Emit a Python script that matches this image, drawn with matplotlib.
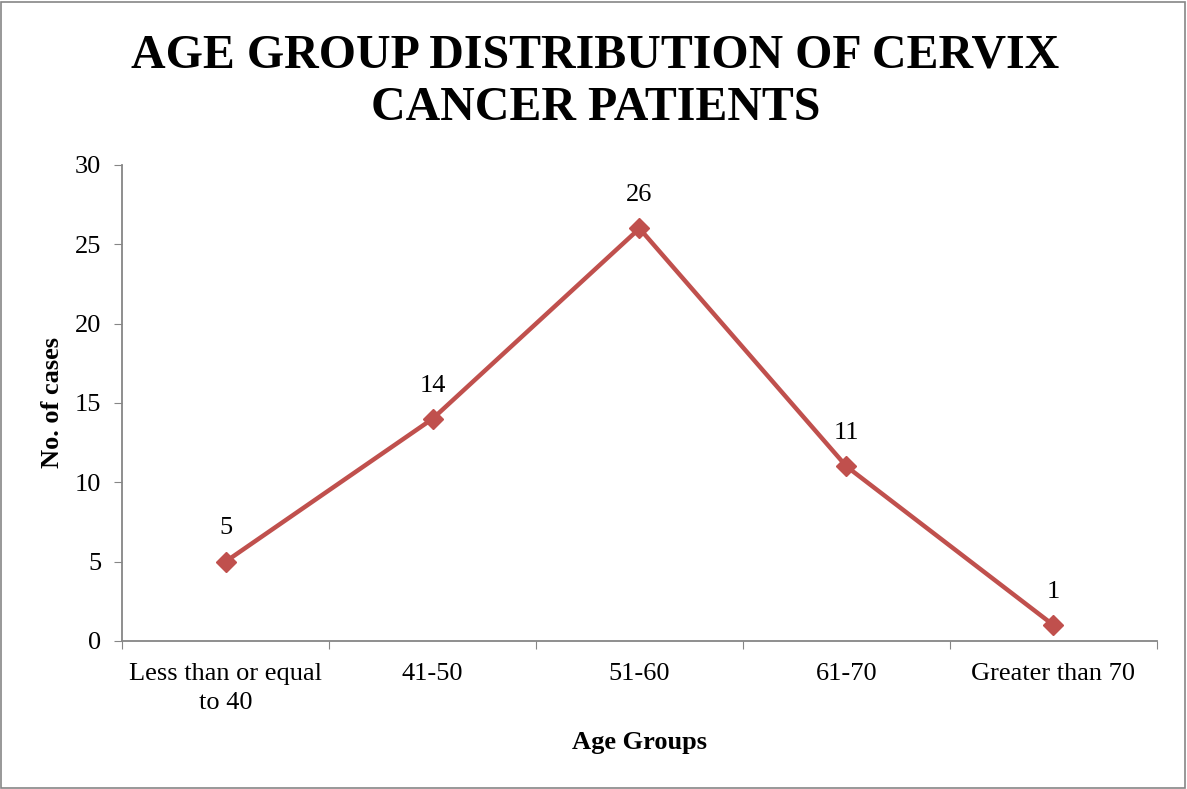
import numpy as np
import matplotlib.pyplot as plt
from matplotlib.patches import Rectangle

categories = ['Less than or equal\nto 40', '41-50', '51-60', '61-70', 'Greater than 70']
cases = [5, 14, 26, 11, 1]

plt.rcParams['font.family'] = ['Liberation Serif', 'DejaVu Serif']

fig = plt.figure(figsize=(11.87, 7.89), dpi=100)
ax = fig.add_axes([0.1028, 0.1876, 0.8719, 0.6033])

x = np.arange(len(categories))
ax.plot(x, cases, color='#C0504D', lw=3.2, marker='D', markersize=10, clip_on=False)
for xi, yi in zip(x, cases):
    ax.annotate(str(yi), (xi, yi), xytext=(0, 16), textcoords='offset points',
                ha='center', va='bottom', fontsize=19)

ax.set_xlim(-0.5, len(categories) - 0.5)
ax.set_ylim(0, 30)
ax.set_yticks(np.arange(0, 31, 5))
ax.set_xticks(np.arange(-0.5, len(categories), 1))
ax.set_xticklabels([])
ax.set_xticks(x, minor=True)
ax.set_xticklabels(categories, minor=True, fontsize=19, linespacing=1.42)
ax.tick_params(axis='x', which='minor', length=0, pad=16)
ax.tick_params(axis='x', which='major', length=6, color='#868686')
ax.tick_params(axis='y', length=6, color='#868686', labelsize=19, pad=9)
for s in ['top', 'right']:
    ax.spines[s].set_visible(False)
for s in ['left', 'bottom']:
    ax.spines[s].set_color('#868686')
    ax.spines[s].set_linewidth(1.3)

ax.set_ylabel('No. of cases', fontsize=19, fontweight='bold', labelpad=8)
ax.set_xlabel('Age Groups', fontsize=19, fontweight='bold', labelpad=12)

fig.text(0.5015, 0.896, 'AGE GROUP DISTRIBUTION OF CERVIX\nCANCER PATIENTS',
         ha='center', va='center', fontsize=34.5, fontweight='bold', linespacing=1.25)

fig.patches.append(Rectangle((0.001, 0.001), 0.997, 0.997, transform=fig.transFigure,
                             fill=False, edgecolor='#868686', lw=1.2))

fig.savefig('out.png', dpi=100)
